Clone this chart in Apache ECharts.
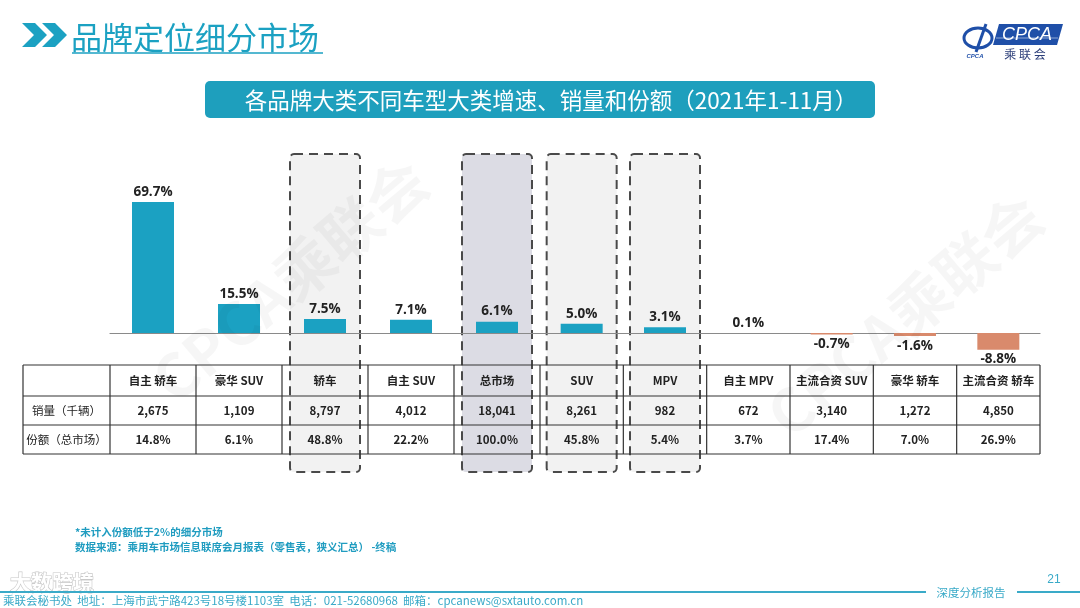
<!DOCTYPE html>
<html>
<head>
<meta charset="utf-8">
<script src="https://cdn.jsdelivr.net/npm/echarts@6/dist/echarts.min.js"></script>
<style>
html,body{margin:0;padding:0;background:#fff;}
#chart{width:1080px;height:608px;}
</style>
</head>
<body>
<div id="chart"></div>
<script>
// ---- data ----
var categories = ['自主 轿车','豪华 SUV','轿车','自主 SUV','总市场','SUV','MPV','自主 MPV','主流合资 SUV','豪华 轿车','主流合资 轿车'];
var growth = [69.7, 15.5, 7.5, 7.1, 6.1, 5.0, 3.1, 0.1, -0.7, -1.6, -8.8];
var volume = [2675, 1109, 8797, 4012, 18041, 8261, 982, 672, 3140, 1272, 4850];
var share = [14.8, 6.1, 48.8, 22.2, 100.0, 45.8, 5.4, 3.7, 17.4, 7.0, 26.9];
var rowLabels = ['销量（千辆）', '份额（总市场）'];
var boxedCategories = ['轿车', '总市场', 'SUV', 'MPV'];
var darkBoxCategory = '总市场';
var splitAt = 5; // the source table has two column widths: first 5 columns wider

var TEAL = '#1ba1c2';
var NEG = '#d98a6c';
var FONT = '"Noto Sans CJK SC","Open Sans",sans-serif';

var chart = echarts.init(document.getElementById('chart'));

var gridTop = 201.5, gridHeight = 150.4;
var grids = [{left: 110, width: 430}, {left: 540, width: 500}];
var parts = [[0, splitAt], [splitAt, categories.length]];

function barData(a, b) {
  return growth.slice(a, b).map(function (v) {
    return v < 0 ? {value: v, label: {position: 'bottom'}} : v;
  });
}

var option = {
  animation: false,
  grid: grids.map(function (gr) { return {left: gr.left, width: gr.width, top: gridTop, height: gridHeight}; }),
  xAxis: parts.map(function (p, k) {
    return {
      type: 'category', gridIndex: k, data: categories.slice(p[0], p[1]),
      axisLine: {show: true, onZero: true, lineStyle: {color: '#8a8a8a', width: 1.2}},
      axisTick: {show: false}, axisLabel: {show: false}, splitLine: {show: false}
    };
  }),
  yAxis: parts.map(function (p, k) {
    return {type: 'value', gridIndex: k, min: -10, max: 70, show: false, splitLine: {show: false}};
  }),
  series: parts.map(function (p, k) {
    return {
      type: 'bar', xAxisIndex: k, yAxisIndex: k, data: barData(p[0], p[1]), barWidth: 42, z: 5,
      itemStyle: {color: function (d) { return d.value < 0 ? NEG : TEAL; }},
      label: {
        show: true, position: 'top', distance: 3,
        fontFamily: '"Open Sans",sans-serif', fontWeight: 'bold', fontSize: 13.5, color: '#222',
        formatter: function (d) { return d.value.toFixed(1) + '%'; }
      }
    };
  })
};
chart.setOption(option);

// ---- graphics ----
var g = [];
function partOf(i) { return i < splitAt ? 0 : 1; }
function centerX(i) {
  var k = partOf(i);
  return chart.convertToPixel({xAxisIndex: k}, categories[i]);
}
function cellBounds(i) {
  var k = partOf(i), p = parts[k], gr = grids[k];
  var w = gr.width / (p[1] - p[0]);
  var x0 = gr.left + w * (i - p[0]);
  return [x0, x0 + w];
}

// dashed boxes
boxedCategories.forEach(function (c) {
  var i = categories.indexOf(c);
  var cx = centerX(i);
  g.push({
    type: 'rect', z: 0, silent: true,
    shape: {x: cx - 35, y: 154, width: 70, height: 318, r: 4},
    style: {fill: c === darkBoxCategory ? '#dcdce4' : '#f2f2f2', stroke: '#4a4a4a', lineWidth: 2, lineDash: [9, 6]}
  });
});

// table
var rowY = [365, 396, 425, 454];
var tableLeft = 23, tableRight = cellBounds(categories.length - 1)[1];
rowY.forEach(function (y) {
  g.push({type: 'line', z: 20, shape: {x1: tableLeft, y1: y, x2: tableRight, y2: y}, style: {stroke: '#333', lineWidth: 1.2}});
});
var colX = [tableLeft, grids[0].left];
categories.forEach(function (c, i) { colX.push(cellBounds(i)[1]); });
colX.forEach(function (x) {
  g.push({type: 'line', z: 20, shape: {x1: x, y1: rowY[0], x2: x, y2: rowY[3]}, style: {stroke: '#333', lineWidth: 1.2}});
});
function cellText(x, y, t, bold) {
  g.push({type: 'text', z: 21, x: x, y: y,
    style: {text: t, fill: '#222', font: (bold ? 'bold ' : '') + '11.5px ' + FONT, textAlign: 'center', textVerticalAlign: 'middle'}});
}
categories.forEach(function (c, i) {
  var b = cellBounds(i), cx = (b[0] + b[1]) / 2;
  cellText(cx, (rowY[0] + rowY[1]) / 2, c, true);
  cellText(cx, (rowY[1] + rowY[2]) / 2, volume[i].toLocaleString('en-US'), true);
  cellText(cx, (rowY[2] + rowY[3]) / 2, share[i].toFixed(1) + '%', true);
});
cellText((tableLeft + grids[0].left) / 2, (rowY[1] + rowY[2]) / 2, rowLabels[0], false);
cellText((tableLeft + grids[0].left) / 2, (rowY[2] + rowY[3]) / 2, rowLabels[1], false);

// watermarks
g.push({type: 'text', z: 30, silent: true, x: 290, y: 280, rotation: Math.PI * 40 / 180,
  style: {text: 'CPCA乘联会', fill: 'rgba(0,0,0,0.035)', font: 'bold 60px ' + FONT, textAlign: 'center', textVerticalAlign: 'middle'}});
g.push({type: 'text', z: 30, silent: true, x: 905, y: 315, rotation: Math.PI * 40 / 180,
  style: {text: 'CPCA乘联会', fill: 'rgba(0,0,0,0.035)', font: 'bold 60px ' + FONT, textAlign: 'center', textVerticalAlign: 'middle'}});

// title with chevrons
g.push({type: 'polygon', z: 10, shape: {points: [[22, 23], [35, 23], [47, 35], [35, 47], [22, 47], [34, 35]]}, style: {fill: TEAL}});
g.push({type: 'polygon', z: 10, shape: {points: [[42, 23], [55, 23], [67, 35], [55, 47], [42, 47], [54, 35]]}, style: {fill: TEAL}});
g.push({type: 'text', z: 10, x: 71, y: 37,
  style: {text: '品牌定位细分市场', fill: TEAL, font: '31px ' + FONT, textVerticalAlign: 'middle'}});
g.push({type: 'line', z: 10, shape: {x1: 72, y1: 53, x2: 323, y2: 53}, style: {stroke: TEAL, lineWidth: 1.5}});

// logo
g.push({type: 'polygon', z: 10, shape: {points: [[999, 24], [1063, 24], [1057, 45], [993, 45]]}, style: {fill: '#1f4fa8'}});
g.push({type: 'line', z: 11, shape: {x1: 996, y1: 38, x2: 1058, y2: 38}, style: {stroke: 'rgba(255,255,255,0.5)', lineWidth: 1}});
g.push({type: 'text', z: 12, x: 1027, y: 35,
  style: {text: 'CPCA', fill: '#fff', font: 'italic 18px "Liberation Sans",sans-serif', textAlign: 'center', textVerticalAlign: 'middle'}});
g.push({type: 'text', z: 11, x: 1025, y: 54,
  style: {text: '乘 联 会', fill: '#2d3f7a', font: '12px ' + FONT, textAlign: 'center', textVerticalAlign: 'middle'}});
g.push({type: 'ellipse', z: 10, shape: {cx: 978, cy: 38, rx: 14, ry: 10}, style: {fill: 'none', stroke: '#1f4fa8', lineWidth: 3}});
g.push({type: 'line', z: 11, shape: {x1: 976, y1: 52, x2: 986, y2: 24}, style: {stroke: '#1f4fa8', lineWidth: 3}});
g.push({type: 'text', z: 11, x: 975, y: 56,
  style: {text: 'CPCA', fill: '#1f4fa8', font: 'italic bold 6px "Liberation Sans",sans-serif', textAlign: 'center', textVerticalAlign: 'middle'}});

// subtitle banner
g.push({type: 'rect', z: 10, shape: {x: 205, y: 81, width: 670, height: 37, r: 5}, style: {fill: '#1e9fbd'}});
g.push({type: 'text', z: 11, x: 551, y: 100,
  style: {text: '各品牌大类不同车型大类增速、销量和份额（2021年1-11月）', fill: '#fff', font: '22.5px ' + FONT, textAlign: 'center', textVerticalAlign: 'middle'}});

// notes
g.push({type: 'text', z: 10, x: 75, y: 532,
  style: {text: '*未计入份额低于2%的细分市场', fill: '#1f9cc0', font: 'bold 10.5px ' + FONT, textVerticalAlign: 'middle'}});
g.push({type: 'text', z: 10, x: 75, y: 547,
  style: {text: '数据来源：乘用车市场信息联席会月报表（零售表，狭义汇总） -终稿', fill: '#1f9cc0', font: 'bold 10.5px ' + FONT, textVerticalAlign: 'middle'}});

// footer
g.push({type: 'text', z: 10, x: 10, y: 582,
  style: {text: '大数跨境', fill: '#fff', stroke: '#c8c8c8', lineWidth: 1.2, font: 'bold 21px ' + FONT, textVerticalAlign: 'middle'}});
g.push({type: 'line', z: 10, shape: {x1: 0, y1: 592, x2: 926, y2: 592}, style: {stroke: '#3aaac8', lineWidth: 2}});
g.push({type: 'line', z: 10, shape: {x1: 1017, y1: 592, x2: 1080, y2: 592}, style: {stroke: '#3aaac8', lineWidth: 2}});
g.push({type: 'text', z: 10, x: 971, y: 593,
  style: {text: '深度分析报告', fill: '#3aaac8', font: '11.5px ' + FONT, textAlign: 'center', textVerticalAlign: 'middle'}});
g.push({type: 'text', z: 10, x: 1054, y: 580,
  style: {text: '21', fill: '#3aaac8', font: '12px "Liberation Sans",sans-serif', textAlign: 'center', textVerticalAlign: 'middle'}});
g.push({type: 'text', z: 10, x: 3, y: 601,
  style: {text: '乘联会秘书处  地址：上海市武宁路423号18号楼1103室  电话：021-52680968  邮箱：cpcanews@sxtauto.com.cn', fill: '#3aaac8', font: '11.5px ' + FONT, textVerticalAlign: 'middle'}});

chart.setOption({graphic: {elements: g}});
</script>
</body>
</html>
